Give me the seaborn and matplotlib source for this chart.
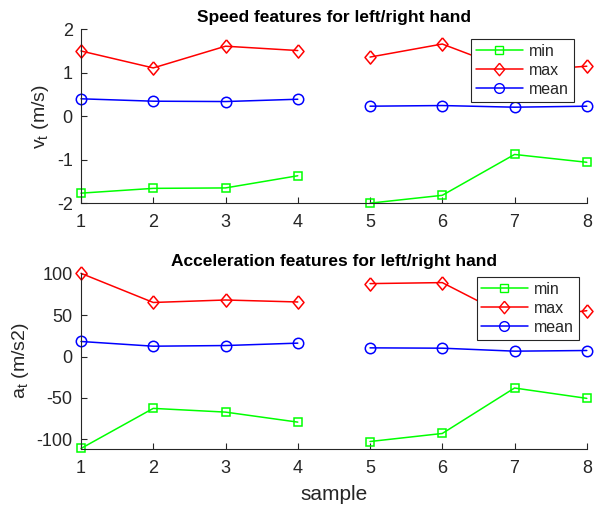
import matplotlib
matplotlib.use("Agg")
import matplotlib.pyplot as plt
from matplotlib.lines import Line2D
import seaborn as sns
import pandas as pd

samples = [1, 2, 3, 4, 5, 6, 7, 8]
hands = ["left", "left", "left", "left", "right", "right", "right", "right"]

speed_min = [-1.77, -1.66, -1.65, -1.37, -2.0, -1.82, -0.88, -1.06]
speed_max = [1.50, 1.11, 1.61, 1.51, 1.36, 1.66, 1.03, 1.15]
speed_mean = [0.40, 0.345, 0.337, 0.39, 0.23, 0.245, 0.207, 0.23]

acc_min = [-111, -62.6, -67.1, -79.2, -102.6, -92.9, -38.0, -50.5]
acc_max = [100.5, 65.3, 68.3, 65.9, 88.1, 89.3, 44.6, 55.4]
acc_mean = [18.2, 12.5, 13.3, 16.2, 10.5, 10.1, 6.5, 7.3]

series_names = ["min", "max", "mean"]
colors = {"min": (0, 1, 0), "max": (1, 0, 0), "mean": (0, 0, 1)}
diamond = [(0, 1.2), (1, 0), (0, -1.2), (-1, 0), (0, 1.2)]
markers = {"min": "s", "max": diamond, "mean": "o"}
msizes = {"min": 6, "max": 9.5, "mean": 7.5}

sns.set_theme(style="white")
plt.rcParams["font.family"] = ["Liberation Sans", "DejaVu Sans"]
plt.rcParams["mathtext.default"] = "regular"
plt.rcParams["axes.unicode_minus"] = False

fig = plt.figure(figsize=(6.0, 5.13), dpi=100)
ax1 = fig.add_axes([0.135, 0.604, 0.843, 0.339])
ax2 = fig.add_axes([0.135, 0.125, 0.843, 0.343])

def draw(ax, vmin, vmax, vmean, title, ylabel, ylim, yticks, anchor):
    vals = {"min": vmin, "max": vmax, "mean": vmean}
    for name in series_names:
        df = pd.DataFrame({"sample": samples, "value": vals[name], "hand": hands})
        sns.lineplot(data=df, x="sample", y="value", units="hand", estimator=None,
                     color=colors[name], marker=markers[name], markersize=msizes[name],
                     markerfacecolor="none", markeredgecolor=colors[name],
                     markeredgewidth=1.1, linewidth=1.1, ax=ax, legend=False,
                     clip_on=False)
    ax.set_xlim(1, 8)
    ax.set_ylim(*ylim)
    ax.set_xticks(samples)
    ax.set_yticks(yticks)
    ax.set_title(title, fontsize=12.5, fontweight="bold", color="black", pad=5)
    ax.set_ylabel(ylabel, fontsize=14, color="#262626", labelpad=4)
    ax.set_xlabel("")
    for s in ["top", "right"]:
        ax.spines[s].set_visible(False)
    for s in ["left", "bottom"]:
        ax.spines[s].set_color("#262626")
        ax.spines[s].set_linewidth(0.8)
    ax.tick_params(axis="both", direction="in", length=4, width=0.8,
                   colors="#262626", labelsize=13, left=True, bottom=True)
    ax.tick_params(axis="x", pad=8)
    ax.tick_params(axis="y", pad=6)
    handles = [Line2D([0], [0], color=colors[n], marker=markers[n], markersize=msizes[n] - 0.5,
                      markerfacecolor="none", markeredgecolor=colors[n], linewidth=1.1)
               for n in series_names]
    leg = ax.legend(handles, series_names, loc="upper right", fontsize=11.5,
                    frameon=True, fancybox=False, handlelength=2.9,
                    borderaxespad=0.0, labelspacing=0.25, borderpad=0.3,
                    handletextpad=0.4, bbox_to_anchor=anchor)
    leg.get_frame().set_edgecolor("#262626")
    leg.get_frame().set_linewidth(0.8)
    leg.get_frame().set_alpha(1)
    leg.set_zorder(10)
    for t in leg.get_texts():
        t.set_color("#262626")

draw(ax1, speed_min, speed_max, speed_mean, "Speed features for left/right hand",
     "v$_t$ (m/s)", (-2, 2), [-2, -1, 0, 1, 2], (0.974, 0.943))
draw(ax2, acc_min, acc_max, acc_mean, "Acceleration features for left/right hand",
     "a$_t$ (m/s2)", (-111.5, 101), [-100, -50, 0, 50, 100], (0.984, 0.977))
ax2.set_xlabel("sample", fontsize=15, color="#262626", labelpad=6)

fig.savefig("out.png", dpi=100)
